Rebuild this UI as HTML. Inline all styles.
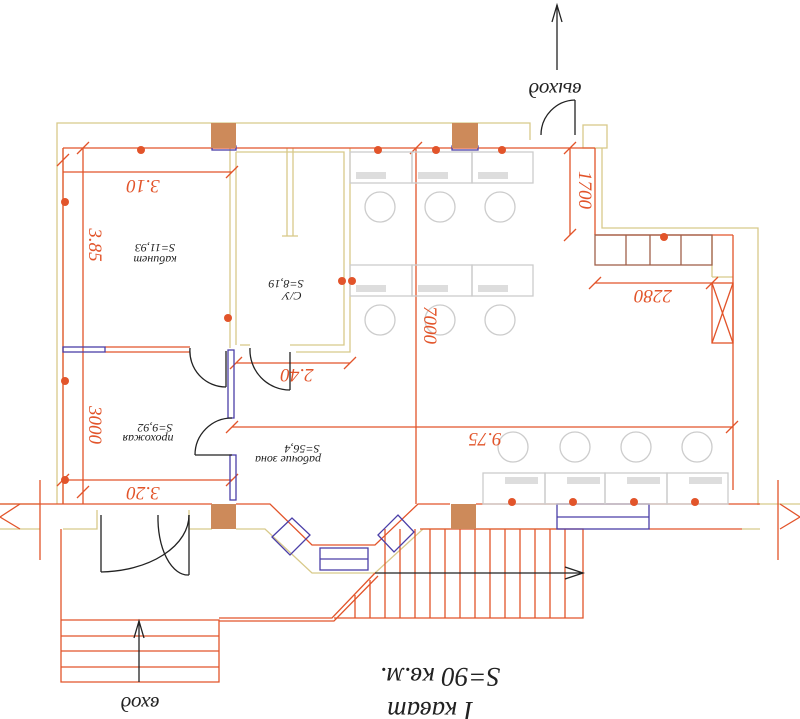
<!DOCTYPE html>
<html><head><meta charset="utf-8"><style>body{margin:0;background:#fff}svg{display:block}</style></head><body>
<svg width="800" height="719" viewBox="0 0 800 719" xmlns="http://www.w3.org/2000/svg" font-family="Liberation Serif, serif">
<g fill="none" stroke-width="1.3">
<g stroke="#d8c98a">
<polyline points="57,504 57,123 530,123 530,140"/>
<line x1="63" y1="148" x2="63" y2="504"/>
<rect x="583" y="125" width="24" height="23"/>
<polyline points="602,148 602,228 758,228 758,505"/>
<line x1="230" y1="148" x2="230" y2="348"/><line x1="236" y1="152" x2="236" y2="345"/>
<polyline points="236,152 344,152 344,345 290,345"/><polyline points="350,148 350,352 296,352"/>
<polyline points="240,345 250,345"/>
<line x1="287" y1="148" x2="287" y2="236"/><line x1="293" y1="148" x2="293" y2="236"/>
<line x1="282" y1="236" x2="298" y2="236"/>
<line x1="0" y1="529" x2="40" y2="529"/><line x1="0" y1="504" x2="40" y2="504"/>
<polyline points="63,529 97,529 97,510"/><polyline points="189,510 189,529 212,529"/>
<polyline points="236,529 265,529 312,573 375,573 423,529 450,529"/>
<line x1="476" y1="529" x2="557" y2="529"/><line x1="742" y1="529" x2="760" y2="529"/>
<line x1="760" y1="504" x2="800" y2="504"/>
<line x1="712" y1="235" x2="712" y2="277"/><line x1="712" y1="277" x2="733" y2="277"/>
</g>
<g stroke="#e2542a">
<line x1="63" y1="148" x2="595" y2="148"/><line x1="595" y1="148" x2="595" y2="235"/>
<line x1="595" y1="235" x2="733" y2="235"/><line x1="733" y1="235" x2="733" y2="490"/>
<line x1="63" y1="148" x2="63" y2="504"/>
<line x1="83" y1="148" x2="83" y2="504"/>
<line x1="416" y1="148" x2="416" y2="504"/>
<line x1="63" y1="172" x2="232" y2="172"/>
<line x1="63" y1="480" x2="232" y2="480"/>
<line x1="236" y1="363" x2="350" y2="363"/>
<line x1="232" y1="427" x2="733" y2="427"/>
<line x1="570" y1="148" x2="570" y2="235"/>
<line x1="595" y1="283" x2="712" y2="283"/>
<polyline points="105,347 190,347"/><line x1="105" y1="352" x2="190" y2="352"/>
<polyline points="0,504 212,504"/><polyline points="236,504 270,504 312,545 375,545 418,504 450,504"/><polyline points="476,504 760,504"/>
<polyline points="40,480 40,560"/><polyline points="20,504 0,517 20,529"/>
<polyline points="778,480 778,560"/><polyline points="780,504 800,517 780,529"/>
<polyline points="61,529 61,620 219,620 219,682 61,682 61,620"/>
<polyline points="219,618 332,618 375,573"/><polyline points="219,621 334,621 378,576"/>
<line x1="61" y1="636" x2="219" y2="636"/><line x1="61" y1="651" x2="219" y2="651"/><line x1="61" y1="667" x2="219" y2="667"/>
<polyline points="420,529 583,529 583,618 334,618"/>
<path d="M355 595V618M370 580V618M385 529V618M400 529V618M415 529V618M430 529V618M445 529V618M460 529V618M475 529V618M490 529V618M505 529V618M520 529V618M535 529V618M550 529V618M565 529V618"/>
<line x1="649" y1="529" x2="742" y2="529"/>
<rect x="712" y="283" width="21" height="60"/><path d="M712 283L733 343M733 283L712 343"/>
<g stroke="#a0604a"><rect x="595" y="235" width="117" height="30"/><path d="M626 235V265M650 235V265M681 235V265"/></g>
<path d="M57 166l12 -12M226 178l12 -12M57 486l12 -12M226 486l12 -12M230 369l12 -12M344 369l12 -12M726 433l12 -12M564 154l12 -12M564 241l12 -12M589 289l12 -12M706 289l12 -12M77 154l12 -12M77 498l12 -12M410 154l12 -12M226 433l12 -12"/>
</g>
<g stroke="#4b3fa8">
<rect x="63" y="347" width="42" height="5"/>
<rect x="228" y="350" width="6" height="68"/><rect x="230" y="455" width="6" height="45"/>
<rect x="212" y="146" width="24" height="4"/><rect x="452" y="146" width="26" height="4"/>
<rect x="557" y="504" width="92" height="25"/><line x1="557" y1="517" x2="649" y2="517"/>
<rect x="320" y="548" width="48" height="22"/><line x1="320" y1="559" x2="368" y2="559"/>
<path d="M272 537L292 518L310 535L290 555ZM378 535L398 515L414 532L394 552Z"/>
</g>
<g stroke="#222">
<path d="M190 348A36 36 0 0 0 226 387"/><line x1="226" y1="351" x2="226" y2="387"/>
<path d="M250 348A40 40 0 0 0 290 390"/><line x1="290" y1="352" x2="290" y2="390"/>
<path d="M232 418A37 37 0 0 0 195 455"/><line x1="195" y1="455" x2="232" y2="455"/>
<path d="M189 515A90 57 0 0 1 101 572"/><line x1="101" y1="515" x2="101" y2="572"/>
<path d="M158 515A30 57 0 0 0 189 575"/><line x1="189" y1="515" x2="189" y2="575"/>
<path d="M541 135A35 35 0 0 1 575 100"/><line x1="575" y1="100" x2="575" y2="135"/>
<line x1="375" y1="573" x2="583" y2="573"/><polyline points="565,567 583,573 565,579"/>
<line x1="139" y1="682" x2="139" y2="621"/><polyline points="134,638 139,621 144,638"/>
<line x1="557" y1="70" x2="557" y2="5"/><polyline points="552,22 557,5 562,22"/>
</g>
<g stroke="#ccc">
<rect x="350" y="152" width="62" height="31"/><rect x="412" y="152" width="60" height="31"/><rect x="472" y="152" width="61" height="31"/>
<rect x="350" y="265" width="62" height="31"/><rect x="412" y="265" width="60" height="31"/><rect x="472" y="265" width="61" height="31"/>
<rect x="483" y="473" width="62" height="31"/><rect x="545" y="473" width="60" height="31"/><rect x="605" y="473" width="62" height="31"/><rect x="667" y="473" width="61" height="31"/>
<circle cx="380" cy="207" r="15"/><circle cx="440" cy="207" r="15"/><circle cx="500" cy="207" r="15"/>
<circle cx="380" cy="320" r="15"/><circle cx="440" cy="320" r="15"/><circle cx="500" cy="320" r="15"/>
<circle cx="513" cy="447" r="15"/><circle cx="575" cy="447" r="15"/><circle cx="636" cy="447" r="15"/><circle cx="697" cy="447" r="15"/>
</g>
</g>
<g fill="#ddd"><rect x="356" y="172" width="30" height="7"/><rect x="418" y="172" width="30" height="7"/><rect x="478" y="172" width="30" height="7"/>
<rect x="356" y="285" width="30" height="7"/><rect x="418" y="285" width="30" height="7"/><rect x="478" y="285" width="30" height="7"/>
<rect x="505" y="477" width="33" height="7"/><rect x="567" y="477" width="33" height="7"/><rect x="627" y="477" width="33" height="7"/><rect x="689" y="477" width="33" height="7"/></g>
<g fill="#cd8a5a"><rect x="211" y="123" width="25" height="25"/><rect x="452" y="123" width="26" height="25"/><rect x="211" y="504" width="25" height="25"/><rect x="451" y="504" width="25" height="25"/></g>
<g fill="#e2542a"><circle cx="141" cy="150" r="4"/><circle cx="378" cy="150" r="4"/><circle cx="436" cy="150" r="4"/><circle cx="502" cy="150" r="4"/><circle cx="65" cy="202" r="4"/><circle cx="65" cy="381" r="4"/><circle cx="65" cy="480" r="4"/><circle cx="228" cy="318" r="4"/><circle cx="342" cy="281" r="4"/><circle cx="352" cy="281" r="4"/><circle cx="664" cy="237" r="4"/><circle cx="512" cy="502" r="4"/><circle cx="573" cy="502" r="4"/><circle cx="634" cy="502" r="4"/><circle cx="695" cy="502" r="4"/></g>
<g fill="#e2542a" font-style="italic" font-size="19" text-anchor="middle">
<text transform="rotate(180 143 180)" x="143" y="180">3.10</text>
<text transform="rotate(180 143 487)" x="143" y="487">3.20</text>
<text transform="rotate(180 297 369)" x="297" y="369">2.40</text>
<text transform="rotate(180 485 433)" x="485" y="433">9.75</text>
<text transform="rotate(180 653 290)" x="653" y="290">2280</text>
<text transform="rotate(90 579 190)" x="579" y="190">1700</text>
<text transform="rotate(90 424 325)" x="424" y="325">7000</text>
<text transform="rotate(90 89 245)" x="89" y="245">3.85</text>
<text transform="rotate(90 89 425)" x="89" y="425">3000</text>
</g>
<g fill="#222" font-style="italic" font-size="12" text-anchor="middle">
<text transform="rotate(180 155 244)" x="155" y="244">S=11,93</text>
<text transform="rotate(180 155 256)" x="155" y="256">кабинет</text>
<text transform="rotate(180 286 280)" x="286" y="280">S=8,19</text>
<text transform="rotate(180 292 292)" x="292" y="292">С/У</text>
<text transform="rotate(180 155 424)" x="155" y="424">S=9,92</text>
<text transform="rotate(180 148 435)" x="148" y="435">прохожая</text>
<text transform="rotate(180 302 445)" x="302" y="445">S=56,4</text>
<text transform="rotate(180 288 456)" x="288" y="456">рабочие зона</text>
</g>
<g fill="#222" font-style="italic" text-anchor="middle">
<text transform="rotate(180 555 83)" x="555" y="83" font-size="21">выход</text>
<text transform="rotate(180 140 697)" x="140" y="697" font-size="21">вход</text>
<text transform="rotate(180 440 668)" x="440" y="668" font-size="27">S=90 кв.м.</text>
<text transform="rotate(180 430 702)" x="430" y="702" font-size="27">I кават</text>
</g>
</svg>
</body></html>
